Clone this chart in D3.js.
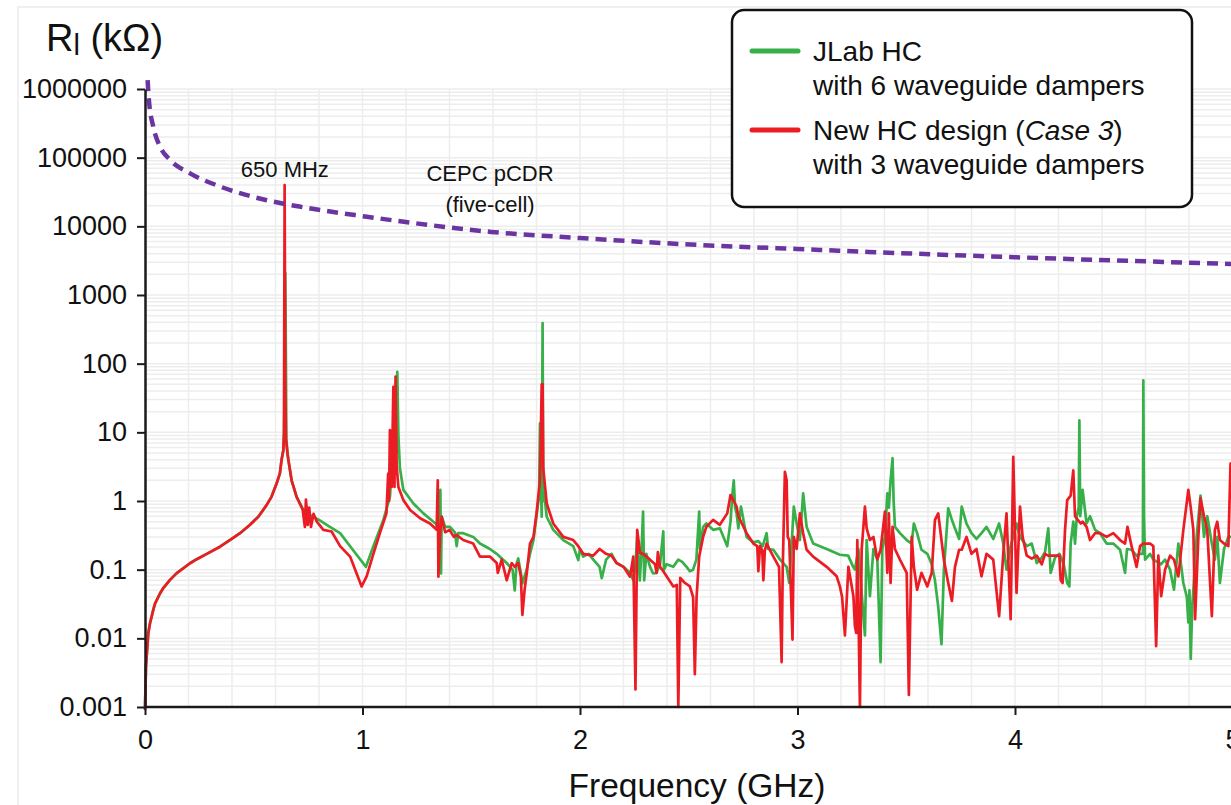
<!DOCTYPE html>
<html>
<head>
<meta charset="utf-8">
<script src="https://cdn.jsdelivr.net/npm/d3@7"></script>
<style>
  body { margin: 0; background: #fff; }
  svg { display: block; font-family: "Liberation Sans", Arial, sans-serif; }
</style>
</head>
<body>
<svg id="chart"></svg>
<script>
// Longitudinal impedance spectra, frequency in GHz, impedance in kOhm
const jlabHC = [
  [0, 0.001], [0.0045, 0.0039], [0.015, 0.0118], [0.023, 0.0166], [0.038, 0.026], [0.046, 0.032],
  [0.069, 0.045], [0.084, 0.054], [0.115, 0.071], [0.146, 0.089], [0.207, 0.124], [0.238, 0.142],
  [0.284, 0.17], [0.345, 0.216], [0.39, 0.27], [0.437, 0.34], [0.483, 0.45], [0.521, 0.59],
  [0.559, 0.87], [0.582, 1.16], [0.605, 1.8], [0.62, 2.5], [0.628, 4.0], [0.636, 5.5], [0.639, 9.6],
  [0.642, 40], [0.645, 2100], [0.647, 300], [0.650, 8], [0.655, 5],
  [0.659, 4.0], [0.674, 2.0], [0.697, 1.15], [0.728, 0.74], [0.735, 0.5], [0.742, 0.85], [0.75, 0.55],
  [0.76, 0.62], [0.80, 0.53], [0.85, 0.42], [0.897, 0.34], [0.958, 0.19], [1.016, 0.11], [1.05, 0.22],
  [1.096, 0.53], [1.126, 1.15], [1.135, 3], [1.142, 7.7], [1.148, 4], [1.153, 20], [1.157, 5],
  [1.16, 76], [1.165, 9], [1.172, 3], [1.188, 1.45], [1.234, 0.92], [1.28, 0.66], [1.326, 0.5],
  [1.354, 0.42], [1.358, 1.45], [1.361, 0.088], [1.364, 0.6], [1.38, 0.42], [1.402, 0.42],
  [1.425, 0.35], [1.433, 0.22], [1.44, 0.34], [1.463, 0.34], [1.509, 0.30], [1.54, 0.24],
  [1.586, 0.2], [1.617, 0.17], [1.64, 0.146], [1.663, 0.125], [1.69, 0.1], [1.70, 0.05],
  [1.708, 0.12], [1.716, 0.146], [1.728, 0.09], [1.735, 0.063], [1.755, 0.1], [1.77, 0.17],
  [1.786, 0.27], [1.80, 0.6], [1.812, 1.2], [1.816, 13.5], [1.82, 2], [1.824, 0.59], [1.828, 390],
  [1.831, 1.0], [1.835, 1.3], [1.847, 0.59], [1.877, 0.38], [1.923, 0.27], [1.969, 0.22],
  [1.992, 0.138], [2.0, 0.2], [2.015, 0.155], [2.04, 0.17], [2.061, 0.14], [2.09, 0.11], [2.1, 0.075],
  [2.12, 0.14], [2.145, 0.17], [2.168, 0.125], [2.2, 0.11], [2.23, 0.09], [2.245, 0.07], [2.255, 0.12],
  [2.263, 0.3], [2.275, 0.07], [2.283, 0.2], [2.29, 0.70], [2.295, 0.07], [2.305, 0.17], [2.322, 0.11],
  [2.336, 0.088], [2.352, 0.09], [2.368, 0.12], [2.383, 0.36], [2.386, 0.1], [2.398, 0.12],
  [2.429, 0.11], [2.452, 0.14], [2.47, 0.13], [2.49, 0.11], [2.505, 0.095], [2.52, 0.1], [2.535, 0.14],
  [2.548, 0.70], [2.552, 0.2], [2.566, 0.42], [2.581, 0.47], [2.612, 0.38], [2.643, 0.40],
  [2.677, 0.22], [2.692, 0.5], [2.70, 1.2], [2.707, 2.0], [2.713, 0.8], [2.72, 0.66], [2.728, 0.4],
  [2.74, 0.83], [2.766, 0.30], [2.797, 0.25], [2.82, 0.26], [2.84, 0.22], [2.858, 0.34], [2.865, 0.2],
  [2.889, 0.195], [2.92, 0.14], [2.95, 0.11], [2.962, 0.064], [2.975, 0.3], [2.983, 0.83],
  [2.996, 0.47], [3.011, 0.27], [3.026, 1.29], [3.042, 0.42], [3.072, 0.24], [3.134, 0.2],
  [3.195, 0.165], [3.233, 0.16], [3.256, 0.11], [3.264, 0.1], [3.28, 0.2], [3.295, 0.046],
  [3.31, 0.011], [3.318, 0.27], [3.333, 0.041], [3.349, 0.2], [3.367, 0.14], [3.382, 0.0045],
  [3.39, 0.2], [3.402, 0.3], [3.413, 1.29], [3.42, 0.8], [3.428, 2], [3.437, 4.2], [3.442, 1.0],
  [3.448, 0.42], [3.471, 0.34], [3.502, 0.27], [3.525, 0.24], [3.535, 0.47], [3.55, 0.34],
  [3.57, 0.195], [3.597, 0.17], [3.617, 0.12], [3.632, 0.07], [3.647, 0.029], [3.662, 0.0082],
  [3.673, 0.1], [3.693, 0.78], [3.71, 0.53], [3.724, 0.4], [3.743, 0.28], [3.755, 0.83], [3.777, 0.47],
  [3.80, 0.34], [3.823, 0.28], [3.846, 0.34], [3.869, 0.42], [3.9, 0.28], [3.927, 0.47], [3.946, 0.24],
  [3.961, 0.1], [3.98, 0.22], [4.007, 0.47], [4.023, 0.30], [4.054, 0.22], [4.077, 0.24], [4.1, 0.125],
  [4.123, 0.15], [4.138, 0.18], [4.153, 0.40], [4.164, 0.09], [4.184, 0.15], [4.204, 0.17],
  [4.224, 0.12], [4.24, 0.064], [4.25, 0.057], [4.256, 0.24], [4.268, 0.5], [4.276, 0.24],
  [4.284, 0.6], [4.293, 0.8], [4.296, 15], [4.30, 0.6], [4.311, 1.45], [4.329, 0.47], [4.345, 0.6],
  [4.368, 0.38], [4.391, 0.34], [4.421, 0.24], [4.452, 0.24], [4.483, 0.195], [4.506, 0.09],
  [4.515, 0.2], [4.536, 0.195], [4.559, 0.16], [4.575, 0.17], [4.588, 0.17], [4.59, 57], [4.593, 0.6],
  [4.598, 0.14], [4.621, 0.17], [4.636, 0.14], [4.672, 0.12], [4.69, 0.14], [4.713, 0.1],
  [4.731, 0.051], [4.751, 0.24], [4.774, 0.064], [4.79, 0.04], [4.797, 0.017], [4.802, 0.05],
  [4.808, 0.005], [4.815, 0.03], [4.82, 0.051], [4.835, 0.3], [4.853, 1.2], [4.869, 0.3],
  [4.884, 0.6], [4.905, 0.24], [4.919, 0.14], [4.93, 0.3], [4.942, 0.064], [4.961, 0.2],
  [4.981, 0.30], [5.0, 0.3]
];

const newHC = [
  [0, 0.0009], [0.0045, 0.0039], [0.015, 0.0118], [0.023, 0.0166], [0.038, 0.026], [0.046, 0.032],
  [0.069, 0.045], [0.084, 0.054], [0.115, 0.071], [0.146, 0.089], [0.207, 0.124], [0.238, 0.142],
  [0.284, 0.17], [0.345, 0.216], [0.39, 0.27], [0.437, 0.34], [0.483, 0.45], [0.521, 0.59],
  [0.559, 0.87], [0.582, 1.16], [0.605, 1.8], [0.62, 2.5], [0.628, 4.0], [0.636, 5.5], [0.639, 9.6],
  [0.642, 40000], [0.645, 50], [0.648, 8], [0.655, 5], [0.659, 4.0],
  [0.674, 2.0], [0.697, 1.15], [0.725, 0.75], [0.735, 0.42], [0.740, 1.05], [0.748, 0.45],
  [0.755, 0.80], [0.763, 0.42], [0.775, 0.65], [0.79, 0.50], [0.82, 0.38], [0.858, 0.36],
  [0.897, 0.22], [0.943, 0.155], [0.973, 0.088], [0.996, 0.057], [1.019, 0.08], [1.05, 0.17],
  [1.08, 0.34], [1.11, 0.66], [1.118, 2.5], [1.122, 1.0], [1.126, 10.8], [1.134, 1.6], [1.142, 46],
  [1.147, 1.6], [1.152, 65], [1.157, 3.2], [1.165, 1.6], [1.188, 1.03], [1.219, 0.74], [1.265, 0.56],
  [1.31, 0.47], [1.341, 0.38], [1.346, 2.0], [1.349, 0.079], [1.357, 0.34], [1.364, 0.59],
  [1.38, 0.35], [1.40, 0.38], [1.42, 0.3], [1.433, 0.32], [1.463, 0.27], [1.509, 0.24], [1.54, 0.155],
  [1.586, 0.155], [1.617, 0.125], [1.622, 0.09], [1.64, 0.14], [1.663, 0.07], [1.686, 0.125],
  [1.70, 0.11], [1.716, 0.125], [1.728, 0.08], [1.735, 0.022], [1.745, 0.05], [1.755, 0.088],
  [1.77, 0.24], [1.786, 0.30], [1.80, 0.66], [1.816, 2.0], [1.824, 50], [1.828, 50], [1.831, 3],
  [1.847, 0.92], [1.877, 0.47], [1.923, 0.30], [1.969, 0.27], [1.992, 0.22], [2.015, 0.17],
  [2.061, 0.16], [2.09, 0.2], [2.12, 0.17], [2.145, 0.16], [2.168, 0.125], [2.2, 0.11], [2.23, 0.079],
  [2.245, 0.155], [2.255, 0.0018], [2.263, 0.38], [2.276, 0.175], [2.29, 0.17], [2.322, 0.14],
  [2.345, 0.12], [2.352, 0.09], [2.358, 0.18], [2.368, 0.11], [2.383, 0.095], [2.398, 0.08],
  [2.429, 0.057], [2.445, 0.06], [2.452, 0.001], [2.461, 0.076], [2.48, 0.065], [2.505, 0.057],
  [2.52, 0.04], [2.528, 0.003], [2.536, 0.04], [2.548, 0.155], [2.566, 0.30], [2.581, 0.42],
  [2.612, 0.53], [2.643, 0.45], [2.677, 0.66], [2.692, 1.22], [2.707, 1.0], [2.72, 0.83], [2.728, 0.6],
  [2.766, 0.34], [2.797, 0.24], [2.815, 0.22], [2.82, 0.095], [2.828, 0.22], [2.838, 0.19],
  [2.843, 0.07], [2.85, 0.19], [2.858, 0.24], [2.889, 0.155], [2.915, 0.11], [2.927, 0.0045],
  [2.932, 0.1], [2.942, 2.66], [2.95, 2.0], [2.955, 0.3], [2.962, 0.27], [2.977, 0.0096], [2.983, 0.3],
  [2.996, 0.2], [3.011, 0.66], [3.026, 0.34], [3.042, 0.195], [3.072, 0.155], [3.134, 0.11],
  [3.18, 0.08], [3.195, 0.057], [3.205, 0.04], [3.218, 0.011], [3.234, 0.11], [3.257, 0.041],
  [3.264, 0.015], [3.27, 0.012], [3.275, 0.27], [3.287, 0.001], [3.295, 0.195], [3.31, 0.83],
  [3.318, 0.4], [3.333, 0.27], [3.349, 0.30], [3.367, 0.14], [3.382, 0.195], [3.402, 0.70],
  [3.413, 0.09], [3.42, 0.66], [3.428, 0.064], [3.437, 0.42], [3.448, 0.2], [3.471, 0.14],
  [3.502, 0.09], [3.512, 0.0015], [3.525, 0.30], [3.535, 0.11], [3.55, 0.051], [3.57, 0.09],
  [3.597, 0.057], [3.617, 0.09], [3.632, 0.53], [3.647, 0.66], [3.662, 0.27], [3.673, 0.14],
  [3.693, 0.064], [3.71, 0.035], [3.724, 0.11], [3.743, 0.195], [3.755, 0.195], [3.777, 0.30],
  [3.8, 0.17], [3.823, 0.2], [3.846, 0.08], [3.869, 0.17], [3.9, 0.14], [3.927, 0.021], [3.946, 0.17],
  [3.961, 0.66], [3.98, 0.019], [3.992, 4.4], [4.007, 0.046], [4.023, 0.83], [4.035, 0.30],
  [4.054, 0.16], [4.077, 0.145], [4.1, 0.16], [4.123, 0.12], [4.138, 0.17], [4.153, 0.16],
  [4.184, 0.16], [4.204, 0.16], [4.21, 0.07], [4.219, 0.064], [4.23, 0.38], [4.24, 1.03],
  [4.256, 1.2], [4.268, 2.8], [4.276, 0.6], [4.302, 0.47], [4.311, 0.5], [4.329, 0.42], [4.345, 0.27],
  [4.368, 0.34], [4.391, 0.34], [4.421, 0.30], [4.452, 0.34], [4.483, 0.27], [4.506, 0.24],
  [4.517, 0.42], [4.536, 0.22], [4.559, 0.11], [4.575, 0.22], [4.59, 0.24], [4.621, 0.24],
  [4.636, 0.22], [4.649, 0.0077], [4.659, 0.16], [4.672, 0.041], [4.69, 0.1], [4.713, 0.16],
  [4.731, 0.14], [4.751, 0.08], [4.774, 0.38], [4.797, 1.45], [4.808, 0.8], [4.82, 0.38],
  [4.828, 0.019], [4.843, 0.3], [4.853, 1.1], [4.869, 0.6], [4.884, 0.38], [4.905, 0.021],
  [4.919, 0.38], [4.93, 0.5], [4.942, 0.27], [4.961, 0.24], [4.981, 0.22], [4.991, 3.5], [5.0, 2.8]
];

// CEPC pCDR five-cell threshold curve
const cepcPCDR = [
  [0.012, 1350000], [0.018, 690000], [0.038, 283000], [0.069, 145000], [0.115, 93000],
  [0.207, 59000], [0.345, 38000], [0.56, 24000], [0.71, 19400], [1.02, 13800], [1.16, 12000],
  [1.59, 8300], [2.0, 6750], [2.55, 5350], [3.0, 4680], [3.47, 4070], [4.0, 3550], [5.0, 2830]
];

const xTicks = [0, 1, 2, 3, 4, 5];
const yTicks = [0.001, 0.01, 0.1, 1, 10, 100, 1000, 10000, 100000, 1000000];
const xGrid = d3.range(1, 25).map((i) => i * 0.2);
const yMinorGrid = d3.range(-3, 6).flatMap((k) => d3.range(2, 10).map((m) => m * Math.pow(10, k)));

const legendItems = [
  { color: "#38b04a", lines: ["JLab HC", "with 6 waveguide dampers"] },
  { color: "#ec1c24", lines: ["New HC design (", "with 3 waveguide dampers"] }
];

const width = 1231, height = 805;
const margin = { top: 89, left: 145, bottom: 98 };

const svg = d3.select("#chart")
  .attr("width", width)
  .attr("height", height)
  .attr("viewBox", [0, 0, width, height]);

svg.append("rect")
  .attr("x", 18).attr("y", 7)
  .attr("width", 1400).attr("height", 1000)
  .attr("fill", "none").attr("stroke", "#ececec").attr("stroke-width", 1.5);

// Scales
const x = d3.scaleLinear().domain([0, 5]).range([margin.left, 1232.5]);
const y = d3.scaleLog().domain([0.001, 1000000]).range([height - margin.bottom, margin.top]);
const y0 = y.range()[0];

// Grid
const grid = svg.append("g").attr("stroke", "#ededed").attr("stroke-width", 1.5);
grid.selectAll(".vx").data(xGrid).join("line")
  .attr("x1", (d) => x(d)).attr("x2", (d) => x(d))
  .attr("y1", margin.top).attr("y2", y0);
grid.selectAll(".hy").data(yMinorGrid.concat(yTicks)).join("line")
  .attr("x1", margin.left).attr("x2", width)
  .attr("y1", (d) => y(d)).attr("y2", (d) => y(d));

// Series
const line = d3.line().x((d) => x(d[0])).y((d) => y(d[1]));

svg.append("path").datum(jlabHC)
  .attr("fill", "none").attr("stroke", "#38b04a").attr("stroke-width", 2.7)
  .attr("stroke-linejoin", "round").attr("d", line);

svg.append("path").datum(newHC)
  .attr("fill", "none").attr("stroke", "#ec1c24").attr("stroke-width", 2.7)
  .attr("stroke-linejoin", "round").attr("d", line);

svg.append("path").datum(cepcPCDR)
  .attr("fill", "none").attr("stroke", "#6a35a0").attr("stroke-width", 4.5)
  .attr("stroke-dasharray", "11,7")
  .attr("d", d3.line().x((d) => x(d[0])).y((d) => y(d[1])).curve(d3.curveMonotoneX));

// Axes
const fmtY = (d) => (d >= 1 ? d3.format("d")(d) : String(d));

const yAxis = svg.append("g")
  .attr("transform", `translate(${margin.left},0)`)
  .call(d3.axisLeft(y).tickValues(yTicks).tickFormat(fmtY).tickSize(8).tickSizeOuter(0).tickPadding(10));
const xAxis = svg.append("g")
  .attr("transform", `translate(0,${y0})`)
  .call(d3.axisBottom(x).tickValues(xTicks).tickFormat(d3.format("d")).tickSize(8).tickSizeOuter(0).tickPadding(15));

[yAxis, xAxis].forEach((g) => {
  g.attr("font-family", null).attr("font-size", null);
  g.select(".domain").attr("stroke", "#1a1a1a").attr("stroke-width", 2.5);
  g.selectAll(".tick line").attr("stroke", "#1a1a1a").attr("stroke-width", 2);
  g.selectAll(".tick text").attr("fill", "#111").style("font-size", "27px");
});
xAxis.select(".domain").attr("d", `M${margin.left},0H${width + 10}`);

// Axis titles
const yTitle = svg.append("text").attr("x", 46).attr("y", 51).attr("fill", "#111").style("font-size", "38px");
yTitle.append("tspan").text("R");
yTitle.append("tspan").attr("dy", 4).style("font-size", "29px").text("l");
yTitle.append("tspan").attr("dy", -4).text(" (kΩ)");

svg.append("text")
  .attr("x", 697).attr("y", 797)
  .attr("text-anchor", "middle").attr("fill", "#111")
  .style("font-size", "33.5px")
  .text("Frequency (GHz)");

// Annotations
svg.append("text")
  .attr("x", x(0.643)).attr("y", 177)
  .attr("text-anchor", "middle").attr("fill", "#111")
  .style("font-size", "22px")
  .text("650 MHz");

const cepc = svg.append("g").attr("fill", "#111").attr("text-anchor", "middle").style("font-size", "22px");
cepc.append("text").attr("x", 490).attr("y", 181).text("CEPC pCDR");
cepc.append("text").attr("x", 490).attr("y", 212).text("(five-cell)");

// Legend
const lg = svg.append("g").attr("transform", "translate(732,10)");
lg.append("rect")
  .attr("width", 460).attr("height", 197).attr("rx", 12)
  .attr("fill", "#fff").attr("stroke", "#111").attr("stroke-width", 2.5);

const rows = lg.selectAll(".item").data(legendItems).join("g")
  .attr("transform", (d, i) => `translate(0,${41 + i * 79})`);
rows.append("line")
  .attr("x1", 20).attr("x2", 66)
  .attr("stroke", (d) => d.color).attr("stroke-width", 5).attr("stroke-linecap", "round");
rows.each(function (d, i) {
  const g = d3.select(this);
  const t1 = g.append("text").attr("x", 81).attr("y", 10).attr("fill", "#111").style("font-size", "28px");
  t1.append("tspan").text(d.lines[0]);
  if (i === 1) {
    t1.append("tspan").style("font-style", "italic").text("Case 3");
    t1.append("tspan").text(")");
  }
  g.append("text").attr("x", 81).attr("y", 44).attr("fill", "#111").style("font-size", "28px")
    .text(d.lines[1]);
});
</script>
</body>
</html>
